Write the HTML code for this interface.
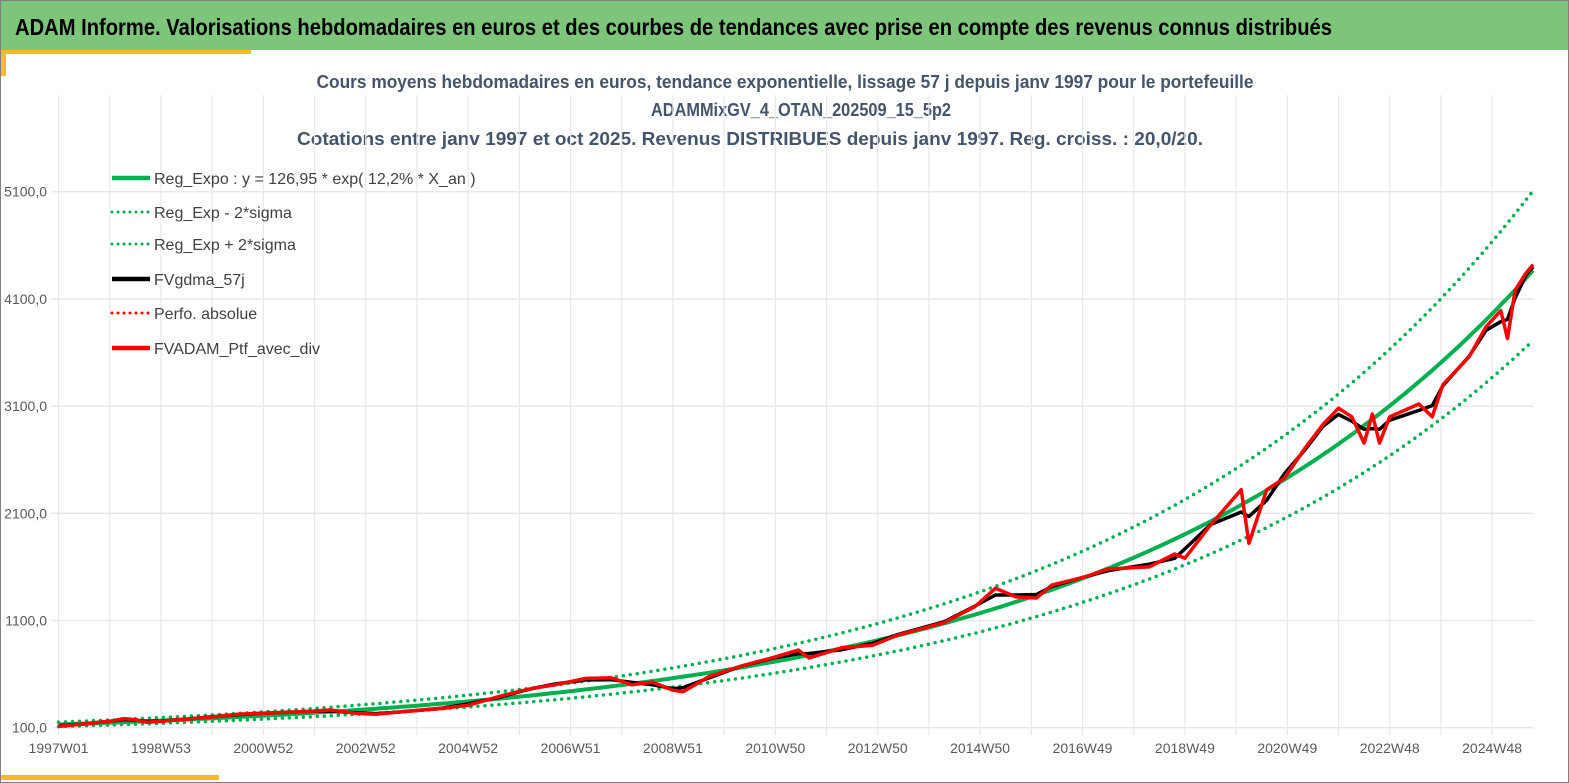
<!DOCTYPE html>
<html><head><meta charset="utf-8"><style>
html,body{margin:0;padding:0;background:#fff;}
svg{display:block;font-family:"Liberation Sans Narrow","Liberation Sans",sans-serif;}
</style></head><body>
<svg id="chart" width="1569" height="783" viewBox="0 0 1569 783">
<rect x="0" y="0" width="1569" height="783" fill="#fff"/>
<rect x="0.5" y="0.5" width="1568" height="782" fill="none" stroke="#808080"/>
<rect x="1" y="1" width="1567" height="49" fill="#7dc57a"/>
<text x="15" y="35" font-size="23" font-weight="bold" fill="#000" textLength="1317" lengthAdjust="spacingAndGlyphs">ADAM Informe. Valorisations hebdomadaires en euros et des courbes de tendances avec prise en compte des revenus connus distribués</text>
<rect x="1" y="50" width="250" height="4" fill="#f5bd1f"/>
<rect x="1" y="50" width="5" height="26" fill="#f5bd1f"/>
<rect x="1" y="775" width="218" height="5" fill="#f5bd1f"/>
<g fill="#44546a" font-weight="bold" font-size="18" text-anchor="middle" font-family="Liberation Sans Narrow, Liberation Sans, sans-serif">
<text x="785" y="88" textLength="937" lengthAdjust="spacingAndGlyphs">Cours moyens hebdomadaires  en euros, tendance exponentielle, lissage 57 j depuis janv 1997 pour le portefeuille</text>
<text x="801" y="116" textLength="300" lengthAdjust="spacingAndGlyphs">ADAMMixGV_4_OTAN_202509_15_5p2</text>
<text x="750" y="145" textLength="906" lengthAdjust="spacingAndGlyphs">Cotations  entre janv 1997 et oct 2025. Revenus DISTRIBUES depuis janv 1997. Reg. croiss. : 20,0/20.</text>
</g>
<g id="grid"></g>
<g id="series"></g>
<g id="axes" font-size="14" fill="#595959"></g>
<g id="legend" font-size="16" fill="#404040"></g>
</svg>
<script>
const yTicks = [100, 1100, 2100, 3100, 4100, 5100];
const yTickLabels = ["100,0", "1100,0", "2100,0", "3100,0", "4100,0", "5100,0"];
const xTickYears = [0, 2, 4, 6, 8, 10, 12, 14, 16, 18, 20, 22, 24, 26, 28];
const xTickLabels = ["1997W01","1998W53","2000W52","2002W52","2004W52","2006W51","2008W51","2010W50","2012W50","2014W50","2016W49","2018W49","2020W49","2022W48","2024W48"];
const tYears = [0,0.5,1,1.28,1.5,1.73,2,2.5,3,3.5,4,4.5,5,5.3,5.8,6.2,6.5,7,7.5,8,8.6,9,9.3,9.7,10.3,10.8,11.2,11.6,12,12.2,12.7,13.3,14,14.45,14.66,15.3,15.9,16.4,17.3,17.9,18.3,18.7,19.1,19.4,20,20.5,21.3,21.8,22,22.5,23.1,23.25,23.6,23.95,24.35,24.7,25,25.26,25.5,25.66,25.8,26,26.57,26.83,27.04,27.55,27.88,28.17,28.3,28.45,28.66,28.8];
const ptfValues = [112,135,160,185,175,150,160,180,200,225,235,245,255,265,235,225,240,260,280,310,390,440,470,500,560,565,500,525,450,435,575,670,760,825,750,845,870,965,1080,1230,1400,1320,1310,1430,1500,1580,1600,1720,1680,1990,2320,1820,2320,2430,2710,2930,3080,3000,2755,3025,2755,3000,3120,3000,3300,3560,3840,3990,3730,4180,4340,4420];
const regA = 126.95, regRate = 0.122, regOffset = 0.2;
const bandUp = 1.17, bandDown = 0.85;
const tEnd = 28.8;

const NS = "http://www.w3.org/2000/svg";
const X0 = 58.5, PXY = 51.2, Y0 = 727.7, PXV = 0.1072;
const xs = t => X0 + t * PXY;
const ys = v => Y0 - (v - 100) * PXV;
function mk(tag, attrs, parent){const e=document.createElementNS(NS,tag);for(const k in attrs)e.setAttribute(k,attrs[k]);parent.appendChild(e);return e;}
const grid = document.getElementById('grid'), axes = document.getElementById('axes'), series = document.getElementById('series'), legend = document.getElementById('legend');

yTicks.forEach((v,i)=>{
  const l = mk('line',{x1:51,x2:1534,y1:ys(v),y2:ys(v),stroke:'#e6e8ec','stroke-width':1.5},grid);
  
  
  const t = mk('text',{x:47,y:ys(v)+5,'text-anchor':'end'},axes);
  t.textContent = yTickLabels[i];
  
  
});
for(let yr=0; yr<=28; yr++){
  const l = mk('line',{x1:xs(yr),x2:xs(yr),y1:95,y2:735,stroke:'#e6e8ec','stroke-width':1.2},grid);
  
  
}
xTickYears.forEach((t,i)=>{
  const e = mk('text',{x:xs(t),y:753,'text-anchor':'middle'},axes);
  e.textContent = xTickLabels[i];
  
  
});

function reg(t){return regA*Math.exp(regRate*(t+regOffset));}
function curve(f){let d='';for(let t=0;t<=tEnd+0.001;t+=0.1){d+=(d?'L':'M')+xs(t).toFixed(1)+','+ys(f(t)).toFixed(1);}return d;}
const up = mk('path',{d:curve(t=>reg(t)*bandUp),fill:'none',stroke:'#00b050','stroke-width':3.5,'stroke-dasharray':'0 7','stroke-linecap':'round'},series);


const dn = mk('path',{d:curve(t=>reg(t)*bandDown),fill:'none',stroke:'#00b050','stroke-width':3.5,'stroke-dasharray':'0 7','stroke-linecap':'round'},series);


const rg = mk('path',{d:curve(reg),fill:'none',stroke:'#00b050','stroke-width':4},series);



const smooth = ptfValues.map((v,i)=>{const a=ptfValues[Math.max(0,i-1)],b=ptfValues[Math.min(ptfValues.length-1,i+1)];return (a+2*v+b)/4;});
const pd = arr => arr.map((v,i)=>(i?'L':'M')+xs(tYears[i]).toFixed(1)+','+ys(v).toFixed(1)).join('');
const bl = mk('path',{d:pd(smooth),fill:'none',stroke:'#000','stroke-width':3.5,'stroke-linejoin':'round'},series);


const rd = mk('path',{d:pd(ptfValues),fill:'none',stroke:'#ff0000','stroke-width':3.5,'stroke-linejoin':'round'},series);



const legItems = [
 ["Reg_Expo : y = 126,95 * exp( 12,2% *  X_an )","#00b050",false,'legend-reg-expo'],
 ["Reg_Exp - 2*sigma","#00b050",true,'legend-minus-2sigma'],
 ["Reg_Exp + 2*sigma","#00b050",true,'legend-plus-2sigma'],
 ["FVgdma_57j","#000",false,'legend-fvgdma'],
 ["Perfo. absolue","#ff0000",true,'legend-perfo-absolue'],
 ["FVADAM_Ptf_avec_div","#ff0000",false,'legend-fvadam-ptf']
];
const legY = [178,212,244,279,313,348];
legItems.forEach((it,i)=>{
  const g = mk('g',{},legend);
  
  
  const attrs = {x1:112,x2:150,y1:legY[i],y2:legY[i],stroke:it[1],'stroke-width':it[2]?3:4.5};
  if(it[2]){attrs['stroke-dasharray']='0 6';attrs['stroke-linecap']='round';}
  mk('line',attrs,g);
  const t = mk('text',{x:154,y:legY[i]+6},g);
  t.textContent = it[0];
});
</script>
</body></html>
